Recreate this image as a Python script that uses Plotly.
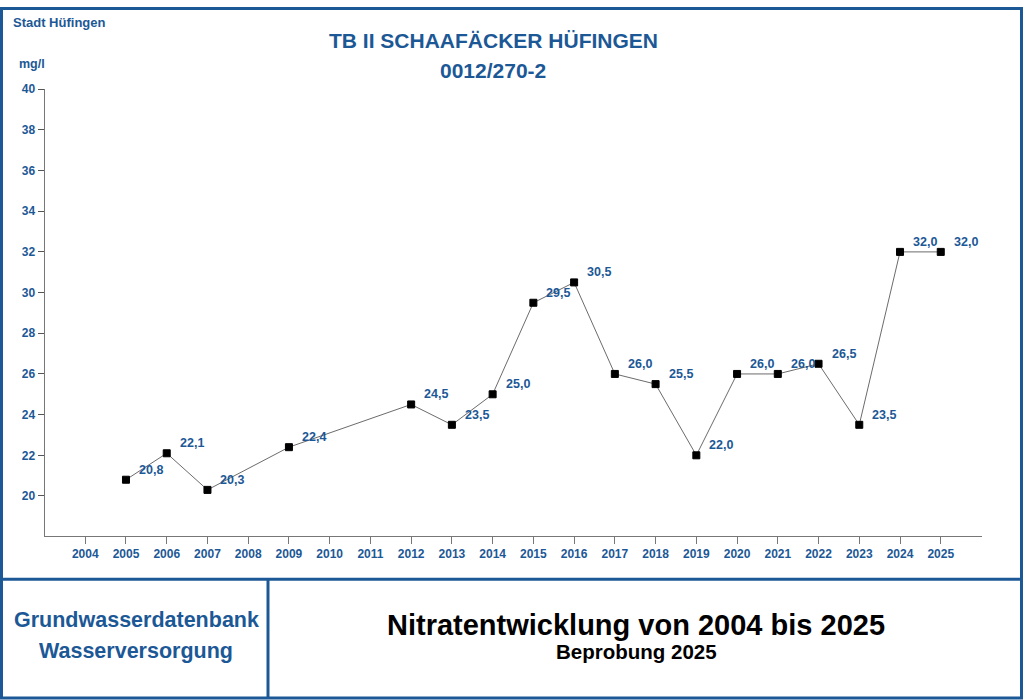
import plotly.graph_objects as go

# -----------------------------------
# Data
# -----------------------------------

years = [2005, 2006, 2007, 2009, 2012, 2013, 2014, 2015, 2016,
         2017, 2018, 2019, 2020, 2021, 2022, 2023, 2024, 2025]

nitrat = [20.8, 22.1, 20.3, 22.4, 24.5, 23.5, 25.0, 29.5, 30.5,
          26.0, 25.5, 22.0, 26.0, 26.0, 26.5, 23.5, 32.0, 32.0]

tick_years = list(range(2004, 2026))
tick_values = list(range(20, 41, 2))

BLUE = "#1c5896"
W, H = 1024, 700


def px(x):
    return x / W


def py(y):
    return 1 - y / H


fig = go.Figure()

fig.add_trace(
    go.Scatter(
        x=years,
        y=nitrat,
        mode="lines+markers",
        line=dict(color="#6b6b6b", width=1),
        marker=dict(symbol="square", size=7, color="black",
                    line=dict(color="black", width=1)),
        hoverinfo="x+y",
        showlegend=False,
    )
)

# -----------------------------------
# Value labels
# -----------------------------------

annotations = []

for x, v in zip(years, nitrat):
    annotations.append(
        dict(
            x=x, y=v, xref="x", yref="y",
            text=f"{v:.1f}".replace(".", ","),
            showarrow=False,
            xanchor="left", yanchor="middle",
            xshift=11, yshift=10,
            font=dict(family="Liberation Sans, Arial", size=12.5,
                      color=BLUE, weight="bold"),
        )
    )

# -----------------------------------
# Header / footer texts
# -----------------------------------

def label(text, x, y, size, color=BLUE, family="Liberation Sans, Arial",
          xanchor="center"):
    return dict(
        x=px(x), y=py(y), xref="paper", yref="paper",
        text=text, showarrow=False,
        xanchor=xanchor, yanchor="middle",
        font=dict(family=family, size=size, color=color, weight="bold"),
    )


NARROW = "Liberation Sans Narrow, Liberation Sans, Arial"

annotations += [
    label("Stadt Hüfingen", 11, 16, 13, xanchor="left"),
    label("TB II SCHAAFÄCKER HÜFINGEN", 493, 34, 21),
    label("0012/270-2", 493, 64, 21),
    label("mg/l", 17, 58, 12.5, xanchor="left"),
    label("Grundwasserdatenbank", 136, 619, 21.5),
    label("Wasserversorgung", 136, 651, 21.5),
    label("Nitratentwicklung von 2004 bis 2025", 636, 624, 29,
          color="black", family=NARROW),
    label("Beprobung 2025", 636, 651, 20.5,
          color="black", family=NARROW),
]

# -----------------------------------
# Frame
# -----------------------------------

frame = dict(type="line", xref="paper", yref="paper",
             line=dict(color=BLUE, width=3))

shapes = [
    dict(type="rect", xref="paper", yref="paper",
         x0=px(1.5), x1=px(1021.5), y0=py(698), y1=py(1.5),
         line=dict(color=BLUE, width=3)),
    dict(frame, x0=px(1.5), x1=px(1021.5), y0=py(578), y1=py(578)),
    dict(frame, x0=px(268), x1=px(268), y0=py(578), y1=py(698)),
]

tickfont = dict(family="Liberation Sans, Arial", size=12,
                color=BLUE, weight="bold")

fig.update_layout(
    width=W,
    height=H,
    margin=dict(l=0, r=0, t=0, b=0),
    paper_bgcolor="white",
    plot_bgcolor="white",
    annotations=annotations,
    shapes=shapes,
    xaxis=dict(
        domain=[px(44.5), px(981.5)],
        range=[2003, 2026],
        tickvals=tick_years,
        ticktext=[str(y) for y in tick_years],
        ticks="outside", ticklen=7, tickcolor="#777777",
        showline=True, linecolor="#777777", linewidth=1,
        showgrid=False, zeroline=False,
        tickfont=tickfont,
    ),
    yaxis=dict(
        domain=[py(534), py(83)],
        range=[18.05, 40],
        tickvals=tick_values,
        ticks="outside", ticklen=6, tickcolor="#555555",
        showline=True, linecolor="#777777", linewidth=1,
        showgrid=False, zeroline=False,
        tickfont=tickfont,
    ),
)

# pin the chart to the top left corner of the page
pin = (
    "document.body.style.margin='0';"
    "var gd=document.getElementById('{plot_id}');"
    "gd.style.position='fixed';gd.style.left='0';gd.style.top='0';"
)

fig.write_html("out.html", post_script=pin,
               config={"displayModeBar": False})
